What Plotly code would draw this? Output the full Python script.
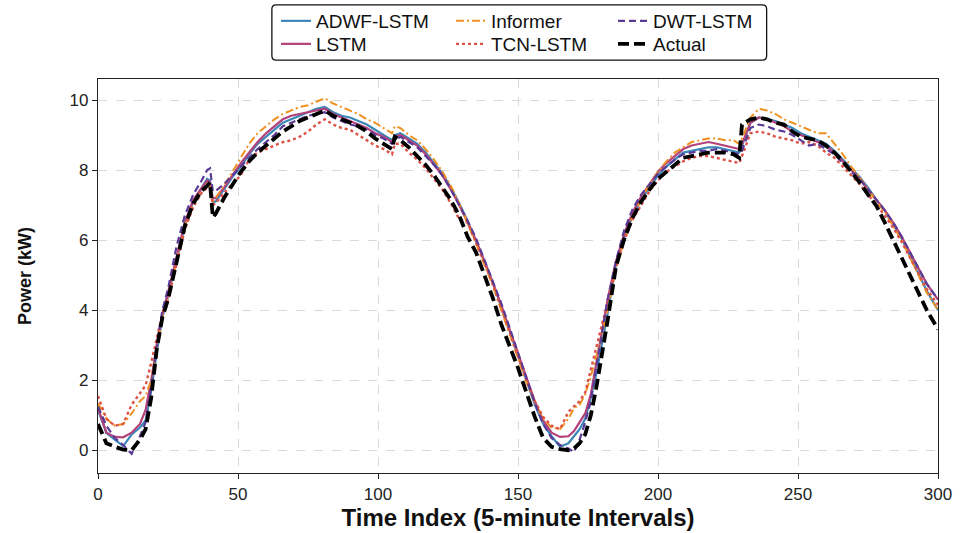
import plotly.graph_objects as go

# Time index (5-minute intervals)
time_index = [
    0, 3, 6, 9, 12, 15, 17, 19, 21, 23,
    25, 28, 31, 34, 37, 39, 40, 41, 42, 45,
    48, 51, 54, 57, 60, 63, 66, 69, 72, 75,
    78, 81, 84, 87, 90, 93, 96, 99, 102, 104,
    105, 106, 108, 111, 114, 117, 120, 123, 126, 129,
    132, 135, 138, 141, 144, 147, 150, 153, 156, 159,
    162, 165, 168, 170, 172, 174, 176, 178, 180, 182,
    185, 188, 191, 194, 197, 200, 203, 206, 209, 212,
    215, 218, 221, 224, 227, 229, 230, 233, 236, 239,
    242, 245, 248, 251, 254, 257, 260, 263, 266, 269,
    272, 275, 278, 281, 284, 287, 290, 293, 296, 300,
]

actual = [
    0.75, 0.2, 0.1, 0.02, 0.0, 0.3, 0.6, 1.5, 2.9, 3.8,
    4.3, 5.3, 6.4, 7.05, 7.4, 7.55, 7.65, 6.65, 6.75, 7.2,
    7.6, 7.95, 8.25, 8.5, 8.7, 8.9, 9.1, 9.25, 9.4, 9.5,
    9.6, 9.7, 9.55, 9.45, 9.35, 9.25, 9.1, 8.9, 8.75, 8.65,
    8.6, 8.95, 8.85, 8.65, 8.4, 8.15, 7.85, 7.5, 7.15, 6.7,
    6.1, 5.65, 5.0, 4.35, 3.6, 3.0, 2.35, 1.65, 0.95, 0.35,
    0.1, 0.03, 0.0, 0.05, 0.2, 0.45, 1.0, 1.8, 2.7, 3.7,
    5.25, 6.05, 6.65, 7.1, 7.45, 7.75, 7.95, 8.15, 8.35, 8.4,
    8.45, 8.5, 8.5, 8.5, 8.45, 8.35, 9.3, 9.45, 9.5, 9.45,
    9.35, 9.3, 9.1, 8.95, 8.9, 8.85, 8.7, 8.5, 8.25, 7.95,
    7.65, 7.3, 6.98, 6.5, 6.0, 5.5, 5.0, 4.5, 4.0, 3.45,
]

adwf_lstm = [
    1.15, 0.5, 0.3, 0.12, 0.45, 0.65, 0.85, 1.7, 2.8, 3.8,
    4.4, 5.4, 6.4, 7.1, 7.5, 7.75, 7.7, 7.1, 7.1, 7.45,
    7.8, 8.1, 8.45, 8.75, 8.95, 9.15, 9.35, 9.45, 9.55, 9.65,
    9.75, 9.8, 9.65, 9.55, 9.5, 9.4, 9.3, 9.15, 9.0, 8.9,
    8.85, 9.0, 9.05, 8.9, 8.75, 8.5, 8.2, 7.9, 7.5, 7.05,
    6.55, 6.0, 5.4, 4.8, 4.1, 3.4, 2.7, 2.0, 1.3, 0.75,
    0.4, 0.1, 0.2, 0.4, 0.6, 0.9, 1.5, 2.2, 3.0, 3.9,
    5.3, 6.1, 6.7, 7.15, 7.5, 7.85, 8.1, 8.3, 8.5, 8.55,
    8.6, 8.65, 8.65, 8.6, 8.55, 8.5, 8.7, 9.35, 9.5, 9.45,
    9.4, 9.3, 9.2, 9.05, 8.95, 8.85, 8.75, 8.55, 8.3, 8.05,
    7.8, 7.5, 7.15, 6.85, 6.45, 6.05, 5.55, 5.05, 4.55, 4.0,
]

lstm = [
    1.2, 0.5, 0.38, 0.37, 0.5, 0.75, 1.15, 2.0, 3.0, 3.9,
    4.5, 5.5, 6.5, 7.15, 7.5, 7.7, 7.65, 7.2, 7.2, 7.5,
    7.85, 8.2, 8.5, 8.8, 9.05, 9.25, 9.45, 9.55, 9.6, 9.65,
    9.7, 9.75, 9.6, 9.5, 9.4, 9.3, 9.2, 9.05, 8.95, 8.85,
    8.8, 8.95, 9.0, 8.85, 8.7, 8.45, 8.15, 7.85, 7.45, 7.0,
    6.5, 6.0, 5.4, 4.8, 4.15, 3.45, 2.75, 2.05, 1.4, 0.85,
    0.5, 0.38, 0.4, 0.55, 0.8, 1.05, 1.6, 2.5, 3.4, 4.3,
    5.4, 6.2, 6.8, 7.25, 7.6, 7.95, 8.2, 8.4, 8.6, 8.7,
    8.75, 8.8, 8.75, 8.7, 8.65, 8.6, 8.75, 9.35, 9.5, 9.45,
    9.35, 9.25, 9.1, 9.0, 8.9, 8.8, 8.7, 8.5, 8.25, 8.0,
    7.75, 7.45, 7.15, 6.85, 6.5, 6.1, 5.65, 5.2, 4.75, 4.3,
]

informer = [
    1.35, 0.9, 0.7, 0.75, 1.05, 1.4, 1.55, 2.0, 2.9, 3.8,
    4.3, 5.4, 6.4, 7.0, 7.4, 7.6, 7.55, 7.1, 7.2, 7.55,
    7.95, 8.35, 8.75, 9.05, 9.25, 9.45, 9.6, 9.7, 9.8, 9.85,
    9.95, 10.05, 9.9, 9.8, 9.7, 9.6, 9.45, 9.35, 9.2, 9.1,
    9.05, 9.25, 9.2, 9.0, 8.85, 8.6, 8.3, 7.95, 7.55, 7.05,
    6.5, 5.9, 5.3, 4.7, 4.0, 3.3, 2.6, 1.95, 1.35, 0.9,
    0.65, 0.6, 0.9, 1.2, 1.3, 1.6, 2.1, 2.7, 3.3, 4.0,
    5.2, 6.0, 6.7, 7.15, 7.6, 7.95, 8.25, 8.5, 8.65, 8.8,
    8.85, 8.9, 8.9, 8.85, 8.85, 8.75, 8.9, 9.5, 9.75, 9.7,
    9.6, 9.45, 9.35, 9.25, 9.15, 9.05, 9.05, 8.75, 8.45, 8.1,
    7.8, 7.45, 7.1, 6.8, 6.4, 6.0, 5.5, 5.0, 4.5, 4.0,
]

tcn_lstm = [
    1.55, 0.9, 0.7, 0.75, 1.3, 1.65, 1.85, 2.5, 3.2, 3.9,
    4.3, 5.3, 6.3, 6.95, 7.35, 7.5, 7.5, 7.0, 7.05, 7.35,
    7.6, 7.85, 8.3, 8.5, 8.6, 8.7, 8.8, 8.85, 8.95, 9.1,
    9.3, 9.45, 9.3, 9.2, 9.15, 9.0, 8.85, 8.7, 8.6, 8.5,
    8.45, 8.75, 8.75, 8.5, 8.3, 8.05, 7.75, 7.45, 7.05, 6.6,
    6.5, 5.95, 5.35, 4.75, 4.05, 3.4, 2.7, 2.0, 1.4, 0.95,
    0.7, 0.6, 1.1, 1.25, 1.4, 1.65, 2.3, 3.0, 3.6, 4.2,
    5.2, 6.0, 6.6, 7.0, 7.4, 7.7, 7.95, 8.1, 8.25, 8.35,
    8.4, 8.4, 8.35, 8.3, 8.25, 8.2, 8.4, 9.05, 9.1, 9.05,
    8.95, 8.9, 8.85, 8.75, 8.8, 8.7, 8.5, 8.35, 8.1, 7.85,
    7.6, 7.3, 7.0, 6.7, 6.35, 5.95, 5.5, 5.05, 4.6, 4.15,
]

dwt_lstm = [
    1.25, 0.7, 0.35, 0.15, -0.1, 0.4, 0.8, 1.8, 3.0, 4.0,
    4.6, 5.8, 6.7, 7.3, 7.7, 8.0, 8.05, 7.4, 7.4, 7.6,
    7.85, 8.1, 8.35, 8.6, 8.8, 9.0, 9.25, 9.35, 9.45, 9.55,
    9.6, 9.65, 9.5, 9.4, 9.3, 9.25, 9.15, 9.0, 8.9, 8.8,
    8.75, 8.85, 8.95, 8.8, 8.65, 8.4, 8.15, 7.85, 7.45, 7.0,
    6.55, 6.05, 5.45, 4.85, 4.2, 3.5, 2.8, 2.05, 1.35, 0.75,
    0.35, 0.15, 0.05, -0.05, 0.3, 0.8, 1.4, 2.4, 3.4, 4.3,
    5.4, 6.3, 6.9, 7.3, 7.6, 7.9, 8.1, 8.3, 8.45, 8.5,
    8.55, 8.55, 8.6, 8.55, 8.5, 8.45, 8.55, 9.2, 9.3, 9.25,
    9.15, 9.1, 9.0, 8.85, 8.7, 8.75, 8.6, 8.45, 8.2, 7.95,
    7.75, 7.45, 7.15, 6.85, 6.5, 6.1, 5.65, 5.2, 4.75, 4.3,
]

x_ticks = [0, 50, 100, 150, 200, 250, 300]
y_ticks = [0, 2, 4, 6, 8, 10]

FONT = "Liberation Sans, Arial, sans-serif"

series = [
    # name, values, color, dash, width, legend slot
    ("ADWF-LSTM", adwf_lstm, "#3b87b9", "solid", 2.2, "legend"),
    ("LSTM", lstm, "#b3417a", "solid", 2.2, "legend4"),
    ("Informer", informer, "#ef9120", "8px,3px,2px,3px", 2.0, "legend2"),
    ("TCN-LSTM", tcn_lstm, "#dc5246", "dot", 2.4, "legend5"),
    ("DWT-LSTM", dwt_lstm, "#5b3a96", "7px,4px", 2.2, "legend3"),
    ("Actual", actual, "#000000", "11px,5px", 3.8, "legend6"),
]

fig = go.Figure()
for name, vals, color, dash, width, leg in series:
    fig.add_trace(go.Scatter(
        x=time_index, y=vals, mode="lines", name=name,
        line=dict(color=color, dash=dash, width=width),
        legend=leg,
    ))

axis_common = dict(
    showline=True, linecolor="#222", linewidth=1.3, mirror=True,
    ticks="outside", ticklen=5, tickwidth=1.2, tickcolor="#222",
    showgrid=True, gridcolor="#d9d9d9", griddash="dash", gridwidth=1,
    zeroline=False, automargin=False,
    tickfont=dict(family=FONT, size=17, color="#222"),
)


def leg(xc, yc):
    return dict(
        orientation="v", bgcolor="rgba(0,0,0,0)", borderwidth=0,
        font=dict(family=FONT, size=19, color="#111"),
        xref="container", yref="container",
        xanchor="left", yanchor="middle", x=xc, y=yc,
        itemwidth=30,
    )


row1, row2 = 1 - 21 / 533, 1 - 44 / 533
col1, col2, col3 = 276 / 961, 451 / 961, 613 / 961

# rounded legend frame in paper coordinates
x0, x1, y0, y1 = 0.207, 0.796, 1.048, 1.188
rx, ry = 0.005, 0.011
frame_path = (
    f"M{x0 + rx},{y0} L{x1 - rx},{y0} Q{x1},{y0} {x1},{y0 + ry} "
    f"L{x1},{y1 - ry} Q{x1},{y1} {x1 - rx},{y1} "
    f"L{x0 + rx},{y1} Q{x0},{y1} {x0},{y1 - ry} "
    f"L{x0},{y0 + ry} Q{x0},{y0} {x0 + rx},{y0} Z"
)

fig.update_layout(
    width=961, height=533,
    margin=dict(l=98, r=23, t=79, b=60, autoexpand=False),
    paper_bgcolor="white", plot_bgcolor="white",
    xaxis=dict(range=[0, 300], tickvals=x_ticks, **axis_common,
               title=dict(text="<b>Time Index (5-minute Intervals)</b>",
                          font=dict(family=FONT, size=24, color="#111"),
                          standoff=6)),
    yaxis=dict(range=[-0.65, 10.6], tickvals=y_ticks, **axis_common),
    annotations=[dict(
        text="<b>Power (kW)</b>", textangle=-90, showarrow=False,
        xref="paper", yref="paper", x=-0.087, y=0.5,
        xanchor="center", yanchor="middle",
        font=dict(family=FONT, size=18, color="#111"),
    )],
    legend=leg(col1, row1),
    legend2=leg(col2, row1),
    legend3=leg(col3, row1),
    legend4=leg(col1, row2),
    legend5=leg(col2, row2),
    legend6=leg(col3, row2),
    shapes=[dict(type="path", xref="paper", yref="paper", path=frame_path,
                 line=dict(color="#111", width=1.3), fillcolor="rgba(0,0,0,0)")],
    showlegend=True,
)

fig.write_html("out.html", post_script="document.body.style.margin='0';",
               config={"displayModeBar": False})
